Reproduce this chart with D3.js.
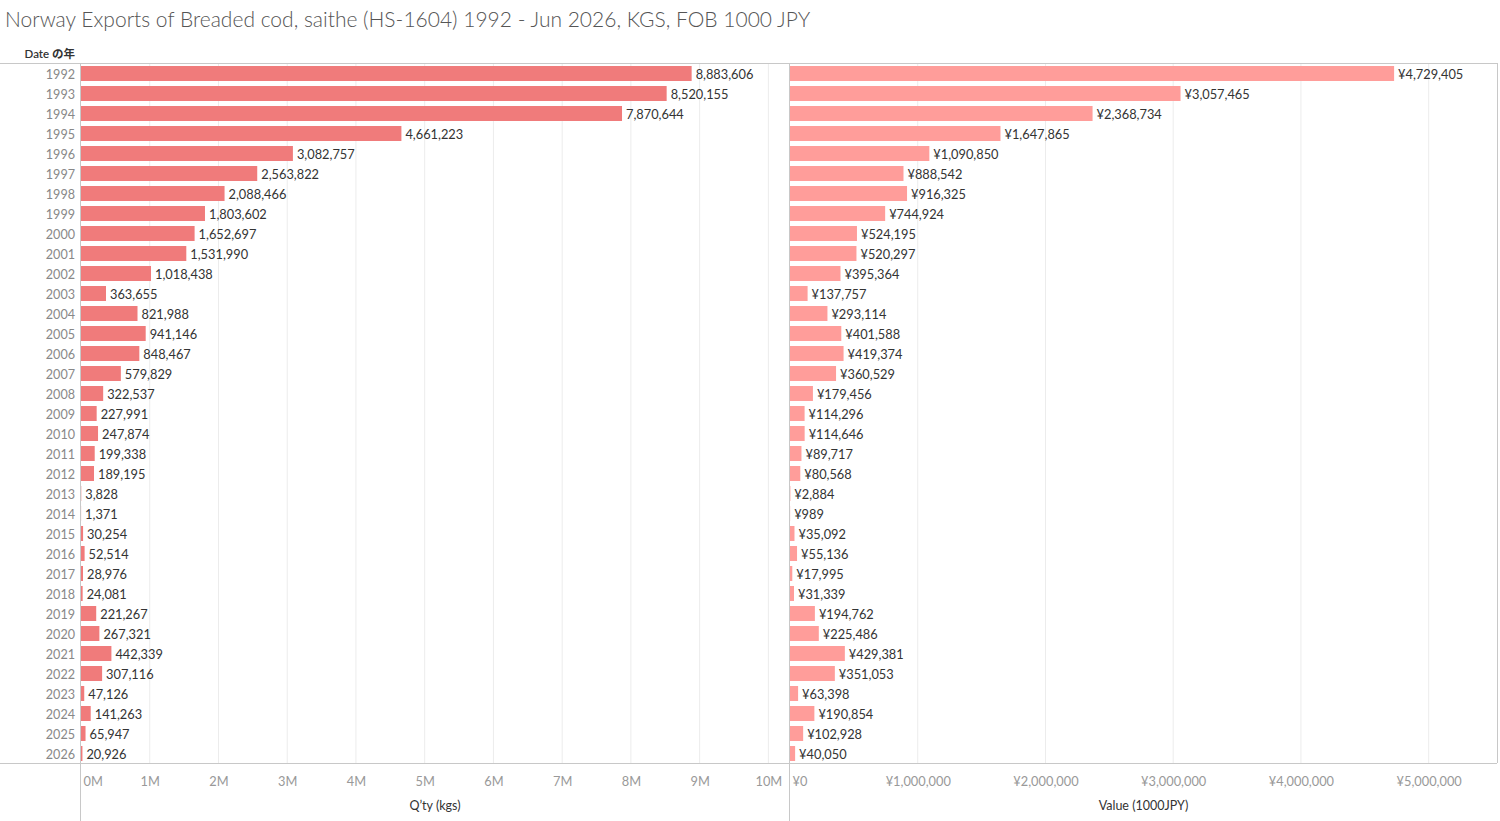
<!DOCTYPE html>
<html>
<head>
<meta charset="utf-8">
<script src="https://cdn.jsdelivr.net/npm/d3@7"></script>
<style>
  body { margin: 0; background: #fff; }
  svg { display: block; font-family: Lato, "Noto Sans CJK JP", sans-serif; }
</style>
</head>
<body>
<div id="chart"></div>
<script>
// data
const years = ['1992','1993','1994','1995','1996','1997','1998','1999','2000','2001','2002','2003','2004','2005','2006','2007','2008','2009','2010','2011','2012','2013','2014','2015','2016','2017','2018','2019','2020','2021','2022','2023','2024','2025','2026'];
const qtyKgs = [8883606, 8520155, 7870644, 4661223, 3082757, 2563822, 2088466, 1803602, 1652697, 1531990, 1018438, 363655, 821988, 941146, 848467, 579829, 322537, 227991, 247874, 199338, 189195, 3828, 1371, 30254, 52514, 28976, 24081, 221267, 267321, 442339, 307116, 47126, 141263, 65947, 20926];
const valueJpy = [4729405, 3057465, 2368734, 1647865, 1090850, 888542, 916325, 744924, 524195, 520297, 395364, 137757, 293114, 401588, 419374, 360529, 179456, 114296, 114646, 89717, 80568, 2884, 989, 35092, 55136, 17995, 31339, 194762, 225486, 429381, 351053, 63398, 190854, 102928, 40050];
const qtyTicks = [0, 1e6, 2e6, 3e6, 4e6, 5e6, 6e6, 7e6, 8e6, 9e6, 10e6];
const valueTicks = [0, 1e6, 2e6, 3e6, 4e6, 5e6];

const W = 1500, H = 821;
const plotTop = 63, plotBottom = 763;
const leftX0 = 81, leftX1 = 789;
const rightX0 = 790, rightX1 = 1497;

const svg = d3.select('#chart').append('svg')
  .attr('width', W).attr('height', H);

svg.append('text')
  .attr('x', 5).attr('y', 27)
  .attr('font-size', 21).attr('fill', '#555').attr('font-weight', 300)
  .text('Norway Exports of Breaded cod, saithe (HS-1604) 1992 - Jun 2026, KGS, FOB 1000 JPY');

svg.append('text')
  .attr('x', 75).attr('y', 58)
  .attr('text-anchor', 'end').attr('font-size', 11.5).attr('fill', '#333').attr('font-weight', 600)
  .text('Date の年');

const yScale = d3.scaleBand()
  .domain(years)
  .range([plotTop, plotBottom])
  .paddingInner(0.25).paddingOuter(0.125);

const xQty = d3.scaleLinear().domain([0, 10.3e6]).range([leftX0, leftX1]);
const xVal = d3.scaleLinear().domain([0, 5.535e6]).range([rightX0, rightX1]);

const fmtNum = d3.format(',');

function panel(xScale, ticks, tickFmt, values, labelFmt, color, title, x0, x1) {
  const g = svg.append('g');

  // gridlines
  g.selectAll('.grid')
    .data(ticks.filter(d => d > 0))
    .enter().append('line')
    .attr('x1', d => xScale(d)).attr('x2', d => xScale(d))
    .attr('y1', plotTop).attr('y2', plotBottom)
    .attr('stroke', '#ececec').attr('stroke-width', 1);

  g.selectAll('.bar')
    .data(values)
    .enter().append('rect')
    .attr('x', xScale(0))
    .attr('y', (d, i) => yScale(years[i]) + 0.5)
    .attr('width', d => xScale(d) - xScale(0))
    .attr('height', yScale.bandwidth())
    .attr('fill', color);

  g.selectAll('.lbl')
    .data(values)
    .enter().append('text')
    .attr('x', d => xScale(d) + 4)
    .attr('y', (d, i) => yScale(years[i]) + yScale.bandwidth() / 2 + 1)
    .attr('dy', '0.36em')
    .attr('font-size', 12.8).attr('fill', '#333')
    .text(d => labelFmt(d));

  // axis
  const axis = svg.append('g')
    .attr('transform', 'translate(0,' + plotBottom + ')')
    .call(d3.axisBottom(xScale).tickValues(ticks).tickFormat(tickFmt).tickSize(0).tickPadding(13.5));
  axis.select('.domain').remove();
  axis.selectAll('text')
    .attr('font-size', 12.8).attr('fill', '#999')
    .attr('font-family', 'Lato, sans-serif')
    .filter(d => d === 0)
    .attr('text-anchor', 'start')
    .attr('dx', 2);

  svg.append('text')
    .attr('x', (x0 + x1) / 2).attr('y', 810)
    .attr('text-anchor', 'middle').attr('font-size', 12.5).attr('fill', '#333')
    .text(title);
}

panel(xQty, qtyTicks, d => (d / 1e6) + 'M', qtyKgs, fmtNum, '#f07b7b', 'Q’ty (kgs)', leftX0, leftX1);
panel(xVal, valueTicks, d => '¥' + fmtNum(d), valueJpy, d => '¥' + fmtNum(d), '#ff9d9a', 'Value (1000JPY)', rightX0, rightX1);

// year labels
svg.selectAll('.year')
  .data(years)
  .enter().append('text')
  .attr('x', 75)
  .attr('y', d => yScale(d) + yScale.bandwidth() / 2 + 1)
  .attr('dy', '0.36em')
  .attr('text-anchor', 'end').attr('font-size', 12.6).attr('fill', '#888')
  .text(d => d);

// frame lines
const lineColor = '#c8c8c8';
svg.append('line').attr('x1', 0).attr('x2', rightX1).attr('y1', plotTop + 0.5).attr('y2', plotTop + 0.5).attr('stroke', lineColor);
svg.append('line').attr('x1', 0).attr('x2', rightX1).attr('y1', plotBottom + 0.5).attr('y2', plotBottom + 0.5).attr('stroke', lineColor);
svg.append('line').attr('x1', leftX0 - 0.5).attr('x2', leftX0 - 0.5).attr('y1', plotTop).attr('y2', H).attr('stroke', lineColor);
svg.append('line').attr('x1', rightX0 - 0.5).attr('x2', rightX0 - 0.5).attr('y1', plotTop).attr('y2', H).attr('stroke', lineColor);
svg.append('line').attr('x1', rightX1 + 0.5).attr('x2', rightX1 + 0.5).attr('y1', plotTop).attr('y2', plotBottom).attr('stroke', lineColor);
</script>
</body>
</html>
